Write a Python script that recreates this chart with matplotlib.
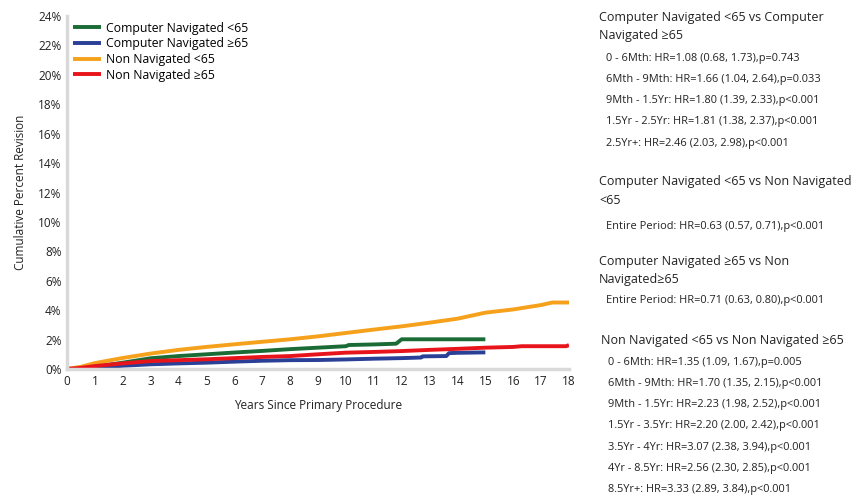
import matplotlib
matplotlib.use("Agg")
import matplotlib.pyplot as plt
from matplotlib.ticker import FuncFormatter

plt.rcParams['font.family'] = ['Open Sans', 'DejaVu Sans']

# --- data (cumulative percent revision) ---
cn_lt65_t = [0, 0.5, 1, 2, 3, 4, 5, 6, 7, 8, 9, 10, 10.1, 11, 11.8, 12.0, 13, 14, 15]
cn_lt65_v = [0, 0.05, 0.15, 0.43, 0.73, 0.88, 1.0, 1.12, 1.23, 1.35, 1.45, 1.55, 1.63, 1.67, 1.72, 2.02, 2.02, 2.02, 2.02]

cn_ge65_t = [0, 0.5, 1, 2, 3, 4, 5, 6, 7, 8, 9, 10, 11, 12, 12.7, 12.75, 13.6, 13.7, 14, 15]
cn_ge65_v = [0, 0.03, 0.08, 0.22, 0.32, 0.38, 0.43, 0.5, 0.56, 0.6, 0.61, 0.65, 0.70, 0.74, 0.78, 0.86, 0.88, 1.08, 1.10, 1.13]

nn_lt65_t = [0, 0.5, 1, 2, 3, 4, 5, 6, 7, 8, 9, 10, 11, 12, 13, 14, 15, 16, 17, 17.4, 18]
nn_lt65_v = [0, 0.15, 0.40, 0.75, 1.05, 1.30, 1.50, 1.68, 1.85, 2.02, 2.22, 2.45, 2.68, 2.90, 3.15, 3.42, 3.83, 4.05, 4.35, 4.52, 4.52]

nn_ge65_t = [0, 0.5, 1, 2, 3, 4, 5, 6, 7, 8, 9, 10, 11, 12, 13, 14, 15, 16, 16.3, 17.9, 18]
nn_ge65_v = [0, 0.08, 0.20, 0.38, 0.54, 0.60, 0.66, 0.74, 0.82, 0.88, 1.00, 1.11, 1.16, 1.22, 1.30, 1.37, 1.45, 1.50, 1.55, 1.55, 1.63]

series_names = ["Computer Navigated <65", "Computer Navigated \u226565",
                "Non Navigated <65", "Non Navigated \u226565"]
series_colors = ["#1a6b35", "#2a3f96", "#f5a11c", "#e8141c"]

x_ticks = list(range(0, 19))
y_ticks = list(range(0, 25, 2))

blocks = [
    (["Computer Navigated <65 vs Computer", "Navigated \u226565"],
     ["0 - 6Mth: HR=1.08 (0.68, 1.73),p=0.743",
      "6Mth - 9Mth: HR=1.66 (1.04, 2.64),p=0.033",
      "9Mth - 1.5Yr: HR=1.80 (1.39, 2.33),p<0.001",
      "1.5Yr - 2.5Yr: HR=1.81 (1.38, 2.37),p<0.001",
      "2.5Yr+: HR=2.46 (2.03, 2.98),p<0.001"]),
    (["Computer Navigated <65 vs Non Navigated", "<65"],
     ["Entire Period: HR=0.63 (0.57, 0.71),p<0.001"]),
    (["Computer Navigated \u226565 vs Non", "Navigated\u226565"],
     ["Entire Period: HR=0.71 (0.63, 0.80),p<0.001"]),
    (["Non Navigated <65 vs Non Navigated \u226565"],
     ["0 - 6Mth: HR=1.35 (1.09, 1.67),p=0.005",
      "6Mth - 9Mth: HR=1.70 (1.35, 2.15),p<0.001",
      "9Mth - 1.5Yr: HR=2.23 (1.98, 2.52),p<0.001",
      "1.5Yr - 3.5Yr: HR=2.20 (2.00, 2.42),p<0.001",
      "3.5Yr - 4Yr: HR=3.07 (2.38, 3.94),p<0.001",
      "4Yr - 8.5Yr: HR=2.56 (2.30, 2.85),p<0.001",
      "8.5Yr+: HR=3.33 (2.89, 3.84),p<0.001"]),
]

W, H = 863, 498
fig = plt.figure(figsize=(W / 100, H / 100), dpi=100)
ax = fig.add_axes([67 / W, 1 - 369 / H, (569 - 67) / W, (369 - 16) / H])

data = [(cn_lt65_t, cn_lt65_v), (cn_ge65_t, cn_ge65_v), (nn_lt65_t, nn_lt65_v), (nn_ge65_t, nn_ge65_v)]
for (t, v), name, c in zip(data, series_names, series_colors):
    ax.plot(t, v, color=c, lw=2.8, label=name, solid_capstyle='butt')

ax.set_xlim(0, 18)
ax.set_ylim(0, 24)
ax.set_xticks(x_ticks)
ax.set_yticks(y_ticks)
ax.yaxis.set_major_formatter(FuncFormatter(lambda v, p: f"{int(v)}%"))
ax.tick_params(length=0, labelsize=8.5, colors="#222222", pad=4)
for s in ["top", "right"]:
    ax.spines[s].set_visible(False)
for s in ["left", "bottom"]:
    ax.spines[s].set_color("#d9d9d9")
    ax.spines[s].set_linewidth(2.5)
ax.set_xlabel("Years Since Primary Procedure", fontsize=8.5, color="#222222", labelpad=8)
ax.set_ylabel("Cumulative Percent Revision", fontsize=8.5, color="#222222", labelpad=8)

leg = ax.legend(loc="upper left", bbox_to_anchor=(0.0, 1.0), frameon=False,
                fontsize=8.8, handlelength=2.3, handletextpad=0.45,
                labelspacing=0.22, borderaxespad=0.15, borderpad=0.3)

# annotation text on the right
header_y = [18, 182, 262, 340]
header_x = [599, 599, 599, 601]
item_start = [58, 226, 300, 362]
for (hdr, items), hy, hx, iy in zip(blocks, header_y, header_x, item_start):
    for j, line in enumerate(hdr):
        fig.text(hx / W, 1 - (hy + 18 * j) / H, line, fontsize=9, color="#222222",
                 va="center", ha="left")
    for i, it in enumerate(items):
        yy = iy + i * 21.3
        fig.text((hx + 7) / W, 1 - yy / H, it, fontsize=7.9, color="#222222",
                 va="center", ha="left")

fig.savefig("out.png", dpi=100)
